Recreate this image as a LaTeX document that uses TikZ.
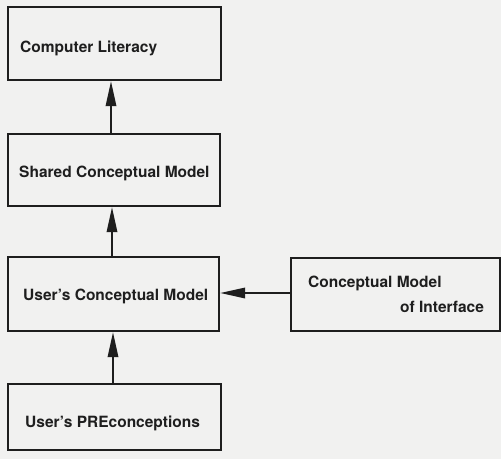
\documentclass[tikz,border=0pt]{standalone}
\usepackage{fontspec}
\setmainfont{TeX Gyre Heros}
\usetikzlibrary{arrows.meta}
\definecolor{paper}{HTML}{F1F1F0}
\definecolor{ink}{HTML}{1E1E1E}
\tikzset{
  box/.style={draw=ink, line width=2.2pt, inner sep=0pt, anchor=north west},
  lbl/.style={text=ink, font=\bfseries\fontsize{15.5}{18}\selectfont, inner sep=0pt, anchor=base west},
  flow/.style={draw=ink, line width=1.8pt, -{Triangle[length=25pt,width=10.5pt]}},
}
\begin{document}
\begin{tikzpicture}[x=1pt,y=-1pt]
  \fill[paper] (0,0) rectangle (501,459);
  \useasboundingbox (0,0) rectangle (501,459);

  % boxes
  \node[box, minimum width=213pt, minimum height=73pt] (lit) at (7,6) {};
  \node[box, minimum width=212pt, minimum height=72pt] (shared) at (7,133) {};
  \node[box, minimum width=211pt, minimum height=74pt] (ucm) at (7,256) {};
  \node[box, minimum width=209pt, minimum height=73pt] (cmi) at (290,257) {};
  \node[box, minimum width=213pt, minimum height=66pt] (pre) at (7,383) {};

  % labels
  \node[lbl] (litT) at (20,52) {Computer Literacy};
  \node[lbl] (sharedT) at (19,177) {Shared Conceptual Model};
  \node[lbl] (ucmT) at (23,300) {User’s Conceptual Model};
  \node[lbl] (cmiA) at (308,287) {Conceptual Model};
  \node[lbl] (cmiB) at (400,312) {of Interface};
  \node[lbl] (preT) at (25,427) {User’s PREconceptions};

  % connectors
  \draw[flow] (shared.north -| 111,0) -- (lit.south -| 111,0);
  \draw[flow] (ucm.north -| 112,0) -- (shared.south -| 112,0);
  \draw[flow] (pre.north -| 113,0) -- (ucm.south -| 113,0);
  \draw[flow] (cmi.west |- 0,293) -- (ucm.east |- 0,293);
\end{tikzpicture}
\end{document}
